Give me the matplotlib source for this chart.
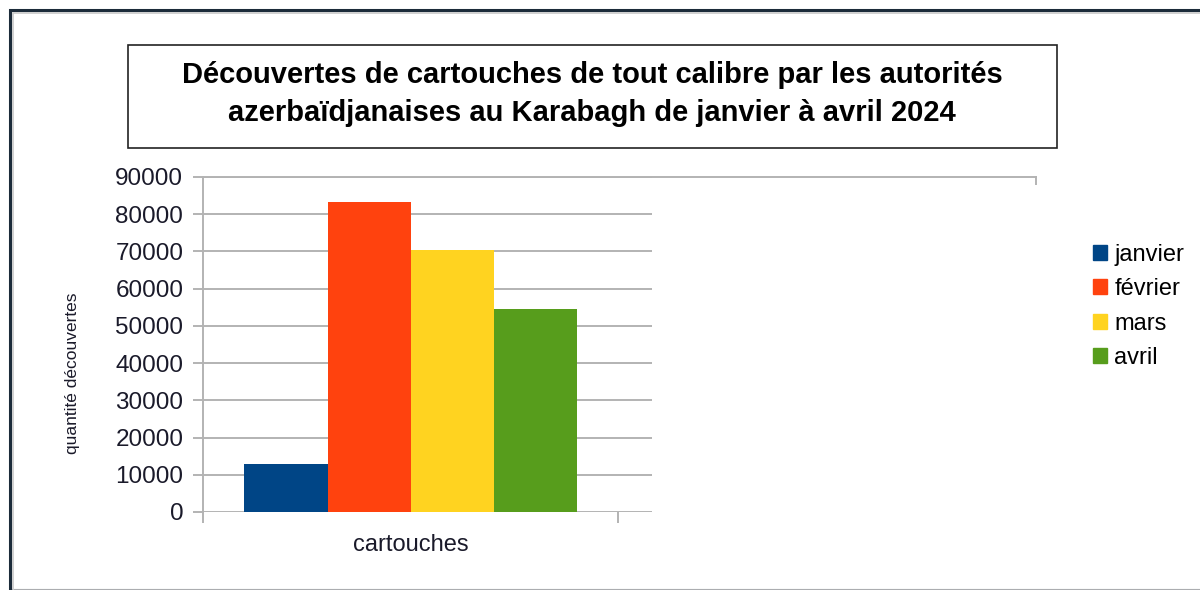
import matplotlib.pyplot as plt
import matplotlib.patches as mpatches
from matplotlib.lines import Line2D
import numpy as np

plt.rcParams['font.family'] = ['Liberation Sans', 'DejaVu Sans']

# Data
months = ['janvier', 'février', 'mars', 'avril']
values = [13000, 83300, 70400, 54500]
colors = ['#004586', '#ff420e', '#ffd320', '#579d1c']
category = 'cartouches'
yticks = np.arange(0, 90001, 10000)

fig = plt.figure(figsize=(12, 5.9), dpi=100)
W, H = 1200, 590

# outer frame
fig.patches.append(mpatches.Rectangle((10 / W, 0), 1.2, 1 - 10 / H, transform=fig.transFigure,
                                      fill=False, edgecolor='#1c2b3a', linewidth=2.2))
fig.patches.append(mpatches.Rectangle((13 / W, 0), 1.2, 1 - 13 / H, transform=fig.transFigure,
                                      fill=False, edgecolor='#c8c8c8', linewidth=1.2))

# title box
fig.patches.append(mpatches.Rectangle((128 / W, 1 - 148 / H), (1057 - 128) / W, (148 - 45) / H,
                                      transform=fig.transFigure, fill=False,
                                      edgecolor='#222222', linewidth=1.2))
fig.text(592 / W, 1 - 94 / H,
         'Découvertes de cartouches de tout calibre par les autorités\n'
         'azerbaïdjanaises au Karabagh de janvier à avril 2024',
         ha='center', va='center', fontsize=21, fontweight='bold', linespacing=1.45)

ax = fig.add_axes([203 / W, 1 - 512 / H, 449 / W, 335 / H])
n = len(values)
bw = 0.2
x = (np.arange(n) - (n - 1) / 2) * bw
ax.bar(x, values, width=bw, color=colors, label=months, zorder=3)

ax.set_xlim(-0.5, 0.5 + 34 / 415)
ax.set_ylim(0, 90000)
ax.set_yticks(yticks)
ax.set_yticklabels([str(v) for v in yticks], fontsize=17.5, color='#1a1a2a')
ax.tick_params(axis='y', length=7.2, width=1.4, color='#b3b3b3', pad=7)
ax.grid(axis='y', color='#b3b3b3', linewidth=1.4, zorder=0)
for s in ['top', 'right', 'bottom']:
    ax.spines[s].set_visible(False)
ax.spines['left'].set_color('#b3b3b3')
ax.spines['left'].set_linewidth(1.4)

ax.set_xticks([-0.5, 0.5])
ax.set_xticklabels(['', ''])
ax.tick_params(axis='x', which='major', length=8, width=1.4, color='#b3b3b3')
ax.set_xticks([0], minor=True)
ax.set_xticklabels([category], minor=True, fontsize=17, color='#1a1a2a')
ax.tick_params(axis='x', which='minor', length=0, pad=16)

ax.set_ylabel('quantité découvertes', fontsize=12.5, color='#1a1a2a')
ax.yaxis.set_label_coords(-0.274, 0.415)

# extended top line
ax.axhline(90000, xmin=0, xmax=(1036 - 203) / 449, color='#b3b3b3', linewidth=1.4,
           clip_on=False, zorder=0)
fig.lines.append(Line2D([1036 / W, 1036 / W], [1 - 177 / H, 1 - 184 / H],
                        transform=fig.transFigure, color='#b3b3b3', linewidth=1.4))

handles = [mpatches.Patch(color=c) for c in colors]
fig.legend(handles, months, loc='upper left', bbox_to_anchor=(1093 / W, 1 - 244 / H),
           frameon=False, fontsize=17, handlelength=0.6, handleheight=0.6,
           handletextpad=0.3, labelspacing=0.52, borderpad=0, borderaxespad=0)

fig.savefig('out.png', dpi=100)
